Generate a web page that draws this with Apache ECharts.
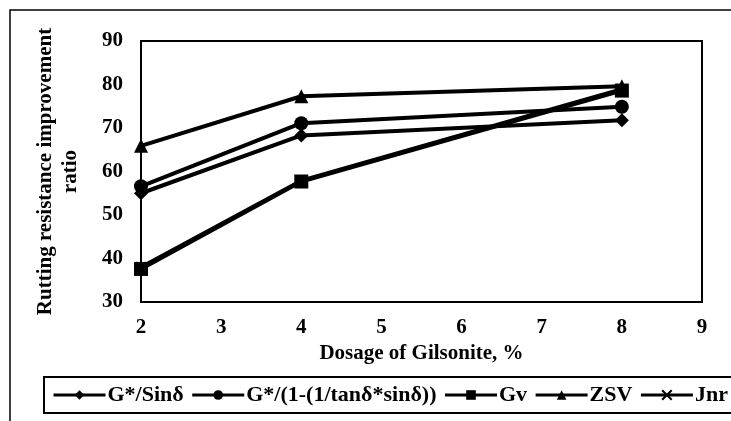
<!DOCTYPE html>
<html>
<head>
<meta charset="utf-8">
<script src="https://cdn.jsdelivr.net/npm/echarts@6/dist/echarts.min.js"></script>
<style>
  html, body { margin: 0; padding: 0; background: #fff; }
  #chart { width: 731px; height: 421px; }
</style>
</head>
<body>
<div id="chart"></div>
<script>
const dosage = [2, 4, 8];
const gSinDelta = [55, 68.3, 71.8];
const gModified = [56.6, 71.1, 74.9];
const gv = [37.6, 57.7, 78.6];
const zsv = [65.9, 77.3, 79.6];
const jnr = [38, 57.9, 78.9];

const font = "'Liberation Serif', 'Times New Roman', serif";
const crossPath = "path://M0,0L10,10M10,0L0,10";

function pairs(values) {
  return dosage.map((x, i) => [x, values[i]]);
}

function lineSeries(name, values, symbol, size) {
  return {
    name,
    type: "line",
    data: pairs(values),
    symbol,
    symbolSize: size,
    showSymbol: true,
    lineStyle: { color: "#000", width: 4 },
    itemStyle: { color: "#000", borderColor: "#000", borderWidth: symbol === crossPath ? 2 : 0 },
  };
}

const chart = echarts.init(document.getElementById("chart"));
chart.setOption({
  animation: false,
  textStyle: { fontFamily: font, fontWeight: "bold", color: "#000" },
  graphic: [
    {
      type: "rect",
      shape: { x: 10, y: 10, width: 800, height: 500 },
      style: { fill: "none", stroke: "#000", lineWidth: 1.5 },
      silent: true,
    },
  ],
  grid: { left: 141, right: 29, top: 41, bottom: 119, show: true, borderColor: "#000", borderWidth: 2 },
  xAxis: {
    type: "value",
    min: 2,
    max: 9,
    interval: 1,
    name: "Dosage of Gilsonite, %",
    nameLocation: "middle",
    nameGap: 41,
    nameTextStyle: { fontFamily: font, fontWeight: "bold", fontSize: 21, color: "#000" },
    axisLine: { show: true, lineStyle: { color: "#000", width: 2 } },
    axisTick: { show: false },
    splitLine: { show: false },
    axisLabel: { fontFamily: font, fontWeight: "bold", fontSize: 21, color: "#000", margin: 15 },
  },
  yAxis: {
    type: "value",
    min: 30,
    max: 90,
    interval: 10,
    name: "Rutting resistance improvement\nratio",
    nameLocation: "middle",
    nameGap: 58,
    nameTextStyle: { fontFamily: font, fontWeight: "bold", fontSize: 21, color: "#000", lineHeight: 25 },
    axisLine: { show: true, lineStyle: { color: "#000", width: 2 } },
    axisTick: { show: false },
    splitLine: { show: false },
    axisLabel: { fontFamily: font, fontWeight: "bold", fontSize: 21, color: "#000", margin: 18 },
  },
  legend: {
    left: 44,
    top: 377,
    width: 1000,
    borderColor: "#000",
    borderWidth: 2,
    padding: [7, 8, 7, 8],
    itemWidth: 52,
    itemHeight: 12,
    itemGap: 7,
    lineStyle: { width: 3 },
    textStyle: { fontFamily: font, fontWeight: "bold", fontSize: 22, color: "#000", padding: [0, 0, 0, -3] },
    data: ["G*/Sinδ", "G*/(1-(1/tanδ*sinδ))", "Gv", "ZSV", "Jnr"],
  },
  series: [
    lineSeries("G*/Sinδ", gSinDelta, "diamond", 14),
    lineSeries("G*/(1-(1/tanδ*sinδ))", gModified, "circle", 14),
    lineSeries("Jnr", jnr, crossPath, 10),
    lineSeries("Gv", gv, "rect", 14),
    lineSeries("ZSV", zsv, "triangle", 14),
  ],
});
</script>
</body>
</html>
